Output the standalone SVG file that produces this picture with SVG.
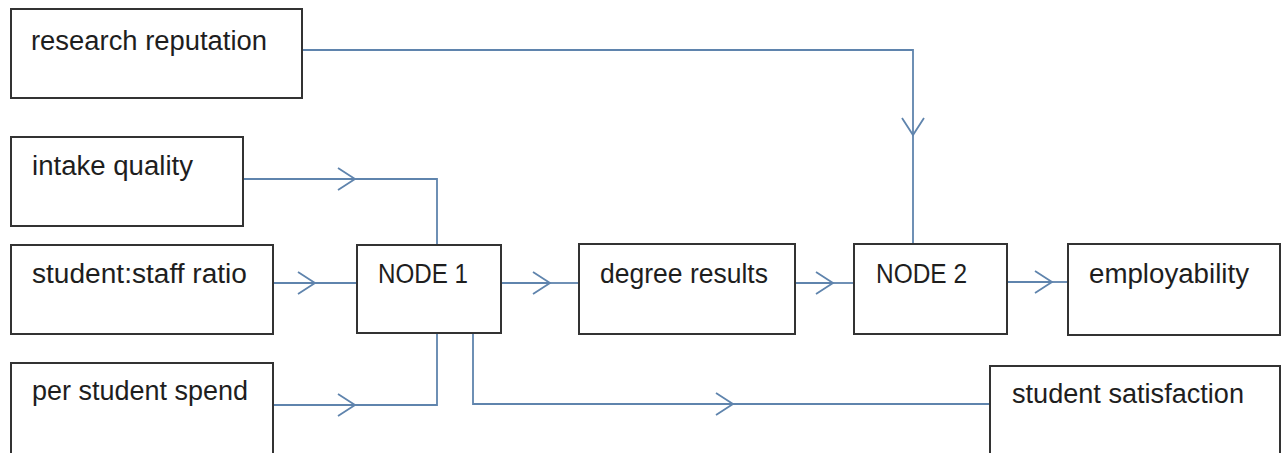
<svg xmlns="http://www.w3.org/2000/svg" width="1281" height="453" viewBox="0 0 1281 453">
<style>
.box{fill:#fff;stroke:#333;stroke-width:2}
.lbl{font-family:"Liberation Sans",Arial,sans-serif;font-size:27px;fill:#1e1e1e}
.con{fill:none;stroke:#5f84ad;stroke-width:1.8}
</style>
<defs>
<marker id="chev" markerUnits="userSpaceOnUse" viewBox="0 0 20 24" refX="18" refY="12" markerWidth="20" markerHeight="24" orient="auto">
<path d="M1,1 L18,12 L1,23" fill="none" stroke="#5f84ad" stroke-width="1.8"/>
</marker>
</defs>
<rect width="1281" height="453" fill="#fff"/>
<g id="connectors">
<path class="con" d="M302,50 H913 V135" marker-end="url(#chev)"/>
<path class="con" d="M913,135 V244"/>
<path class="con" d="M243,179 H355" marker-end="url(#chev)"/>
<path class="con" d="M355,179 H437 V245"/>
<path class="con" d="M273,283 H315" marker-end="url(#chev)"/>
<path class="con" d="M315,283 H357"/>
<path class="con" d="M273,405 H355" marker-end="url(#chev)"/>
<path class="con" d="M355,405 H437 V333"/>
<path class="con" d="M501,283 H550" marker-end="url(#chev)"/>
<path class="con" d="M550,283 H579"/>
<path class="con" d="M473,333 V404 H733" marker-end="url(#chev)"/>
<path class="con" d="M733,404 H990"/>
<path class="con" d="M795,283 H833" marker-end="url(#chev)"/>
<path class="con" d="M833,283 H854"/>
<path class="con" d="M1007,282 H1052" marker-end="url(#chev)"/>
<path class="con" d="M1052,282 H1068"/>
</g>
<g id="research-reputation"><rect class="box" x="11" y="9" width="291" height="89"/><text class="lbl" x="31" y="50" textLength="236" lengthAdjust="spacingAndGlyphs">research reputation</text></g>
<g id="intake-quality"><rect class="box" x="11" y="137" width="232" height="89"/><text class="lbl" x="32" y="175" textLength="161" lengthAdjust="spacingAndGlyphs">intake quality</text></g>
<g id="student-staff-ratio"><rect class="box" x="11" y="245" width="262" height="89"/><text class="lbl" x="32" y="283" textLength="215" lengthAdjust="spacingAndGlyphs">student:staff ratio</text></g>
<g id="per-student-spend"><rect class="box" x="11" y="363" width="262" height="95"/><text class="lbl" x="32" y="400" textLength="216" lengthAdjust="spacingAndGlyphs">per student spend</text></g>
<g id="node1"><rect class="box" x="357" y="245" width="144" height="88"/><text class="lbl" x="378" y="283" textLength="90" lengthAdjust="spacingAndGlyphs">NODE 1</text></g>
<g id="degree-results"><rect class="box" x="579" y="244" width="216" height="90"/><text class="lbl" x="600" y="283" textLength="168" lengthAdjust="spacingAndGlyphs">degree results</text></g>
<g id="node2"><rect class="box" x="854" y="244" width="153" height="90"/><text class="lbl" x="876" y="283" textLength="91" lengthAdjust="spacingAndGlyphs">NODE 2</text></g>
<g id="employability"><rect class="box" x="1068" y="244" width="212" height="91"/><text class="lbl" x="1089" y="283" textLength="160" lengthAdjust="spacingAndGlyphs">employability</text></g>
<g id="student-satisfaction"><rect class="box" x="990" y="366" width="290" height="95"/><text class="lbl" x="1012" y="403" textLength="232" lengthAdjust="spacingAndGlyphs">student satisfaction</text></g>
</svg>
